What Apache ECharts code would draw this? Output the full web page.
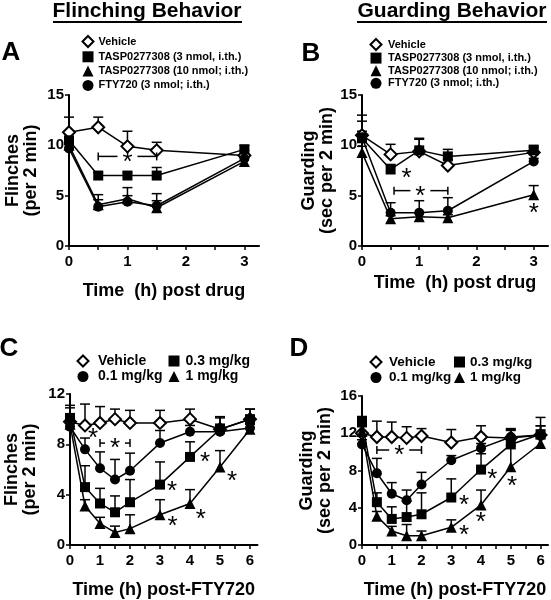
<!DOCTYPE html>
<html><head><meta charset="utf-8">
<script src="https://cdn.jsdelivr.net/npm/echarts@6/dist/echarts.min.js"></script>
<style>html,body{margin:0;padding:0;background:#fff}#c{width:551px;height:600px}</style>
</head><body><div id="c"></div>
<script>
const FONT = '"Liberation Sans", Arial, Helvetica, sans-serif';

// ---------- Panels A & B (intrathecal drugs) ----------
const timesAB = [0, 0.5, 1, 1.5, 3];
const xLabelsAB = [0, 1, 2, 3];
const xTicksAB = [0, 0.5, 1, 1.5, 2, 2.5, 3];
const namesAB = ['Vehicle', 'TASP0277308 (3 nmol, i.th.)', 'TASP0277308 (10 nmol; i.th.)', 'FTY720 (3 nmol; i.th.)'];

const A_vehicle = [11.3, 11.8, 9.9, 9.5, 9.0];
const A_vehicleErr = [1.5, 1.0, 1.5, 0.8, 0.5];
const A_tasp3 = [10.5, 7.0, 7.0, 7.0, 9.6];
const A_tasp3Err = [0.8, 0.3, 0.3, 0.8, 0.4];
const A_tasp10 = [10.0, 4.1, 4.7, 3.8, 8.4];
const A_tasp10Err = [0.6, 0.5, 1.1, 1.4, 0.4];
const A_fty = [9.7, 3.9, 4.4, 4.0, 8.7];
const A_ftyErr = [0.5, 1.2, 0.6, 0.5, 0.3];
const A_brackets = [[0.5, 1.5, 8.9, 1.0]];
const A_stars = [];

const B_vehicle = [11.0, 9.1, 9.4, 8.0, 9.3];
const B_vehicleErr = [2.0, 1.0, 1.2, 0.6, 0.5];
const B_tasp3 = [10.7, 7.6, 9.5, 8.9, 9.5];
const B_tasp3Err = [1.7, 0.5, 1.2, 0.7, 0.5];
const B_tasp10 = [9.3, 2.7, 2.9, 2.8, 5.1];
const B_tasp10Err = [0.6, 0.3, 0.4, 0.3, 0.9];
const B_fty = [10.8, 3.3, 3.3, 3.5, 8.4];
const B_ftyErr = [0.6, 1.0, 1.2, 1.3, 0.3];
const B_brackets = [[0.56, 1.5, 5.5, 1.02]];
const B_stars = [[0.78, 7.3], [3.0, 3.8]];

// ---------- Panels C & D (systemic FTY720) ----------
const timesCD = [0, 0.5, 1, 1.5, 2, 3, 4, 5, 6];
const xLabelsCD = [0, 1, 2, 3, 4, 5, 6];
const xTicksCD = [0, 0.5, 1, 1.5, 2, 2.5, 3, 3.5, 4, 4.5, 5, 5.5, 6];
const namesCD = ['Vehicle', '0.1 mg/kg', '0.3 mg/kg', '1 mg/kg'];

const C_vehicle = [9.8, 9.5, 9.7, 10.0, 9.7, 9.7, 10.0, 9.2, 10.0];
const C_vehicleErr = [1.3, 1.7, 1.3, 0.8, 1.0, 1.0, 0.8, 1.0, 0.8];
const C_dose01 = [9.4, 7.6, 6.1, 5.2, 5.9, 8.1, 9.0, 9.0, 9.3];
const C_dose01Err = [0.6, 0.9, 1.3, 1.6, 1.4, 1.0, 0.5, 0.6, 0.4];
const C_dose03 = [10.1, 4.6, 3.3, 2.6, 3.4, 4.8, 7.0, 9.2, 10.0];
const C_dose03Err = [0.8, 1.7, 1.2, 1.3, 1.8, 1.8, 1.2, 0.9, 0.8];
const C_dose1 = [9.6, 3.1, 1.7, 1.0, 1.3, 2.4, 3.3, 6.2, 9.2];
const C_dose1Err = [0.5, 0.5, 0.5, 0.5, 1.1, 1.2, 1.1, 1.3, 0.4];
const C_brackets = [[1.0, 2.0, 8.1, 1.5]];
const C_stars = [[0.77, 8.9], [3.4, 4.7], [4.5, 7.0], [3.42, 1.9], [4.36, 2.45], [5.4, 5.5]];

const D_vehicle = [12.0, 11.6, 11.6, 11.5, 11.7, 11.0, 11.6, 11.5, 11.8];
const D_vehicleErr = [0.8, 1.7, 1.6, 1.2, 0.8, 1.4, 1.2, 0.8, 1.0];
const D_dose01 = [10.8, 7.7, 5.5, 4.8, 6.5, 9.1, 10.4, 11.6, 11.8];
const D_dose01Err = [0.5, 1.6, 1.2, 1.1, 1.3, 0.5, 0.5, 0.8, 1.0];
const D_dose03 = [13.3, 4.6, 2.8, 3.0, 3.3, 5.1, 8.1, 10.8, 11.9];
const D_dose03Err = [0.5, 1.0, 1.3, 1.7, 2.3, 2.0, 1.7, 1.7, 1.8];
const D_dose1 = [12.2, 3.1, 1.5, 1.0, 1.0, 1.9, 4.3, 8.4, 10.9];
const D_dose1Err = [0.5, 0.5, 0.5, 1.2, 0.5, 0.8, 1.6, 2.3, 0.5];
const D_brackets = [[0.5, 2.0, 10.2, 1.25]];
const D_stars = [[3.43, 4.9], [4.38, 7.6], [3.43, 1.6], [3.99, 3.0], [5.04, 6.9]];

// ---------- styles ----------
const symDiamond = {symbol: 'diamond', symbolSize: 12, itemStyle: {color: '#fff', borderColor: '#000', borderWidth: 2}};
const symRect = {symbol: 'rect', symbolSize: 10, itemStyle: {color: '#000', borderColor: '#000', borderWidth: 0}};
const symTri = {symbol: 'triangle', symbolSize: 11, itemStyle: {color: '#000', borderColor: '#000', borderWidth: 0}};
const symCirc = {symbol: 'circle', symbolSize: 10, itemStyle: {color: '#000', borderColor: '#000', borderWidth: 0}};

const STAR_FONT = '26px ' + FONT;
const STAR_DY = 6;

function errRender(params, api) {
  const x = api.value(0), y = api.value(1), e = api.value(2);
  const p0 = api.coord([x, y]);
  const p1 = api.coord([x, y + e]);
  const st = {stroke: '#000', lineWidth: 1.5};
  return {type: 'group', children: [
    {type: 'line', shape: {x1: p0[0], y1: p0[1], x2: p1[0], y2: p1[1]}, style: st},
    {type: 'line', shape: {x1: p1[0] - 5, y1: p1[1], x2: p1[0] + 5, y2: p1[1]}, style: st}
  ]};
}
function bracketRender(params, api) {
  const y = api.value(2);
  const a = api.coord([api.value(0), y]);
  const b = api.coord([api.value(1), y]);
  const s = api.coord([api.value(3), y]);
  const g = 10, st = {stroke: '#000', lineWidth: 1.5};
  return {type: 'group', children: [
    {type: 'line', shape: {x1: a[0], y1: a[1], x2: s[0] - g, y2: s[1]}, style: st},
    {type: 'line', shape: {x1: s[0] + g, y1: s[1], x2: b[0], y2: b[1]}, style: st},
    {type: 'line', shape: {x1: a[0], y1: a[1] - 4, x2: a[0], y2: a[1] + 4}, style: st},
    {type: 'line', shape: {x1: b[0], y1: b[1] - 4, x2: b[0], y2: b[1] + 4}, style: st},
    {type: 'text', x: s[0], y: s[1] + STAR_DY, style: {text: '*', font: STAR_FONT, fill: '#000', align: 'center', verticalAlign: 'middle'}}
  ]};
}
function starRender(params, api) {
  const p = api.coord([api.value(0), api.value(1)]);
  return {type: 'text', x: p[0], y: p[1] + STAR_DY, style: {text: '*', font: STAR_FONT, fill: '#000', align: 'center', verticalAlign: 'middle'}};
}

const series = [];
function addPanel(idx, times, names, vals, errs, syms, brackets, stars) {
  for (let s = 0; s < vals.length; s++) {
    series.push({
      type: 'custom', name: names[s] + ' err', xAxisIndex: idx, yAxisIndex: idx, z: 2,
      renderItem: errRender, encode: {x: 0, y: 1},
      data: times.map((t, k) => [t, vals[s][k], errs[s][k]]), silent: true
    });
  }
  for (let s = 0; s < vals.length; s++) {
    series.push(Object.assign({
      type: 'line', name: names[s], xAxisIndex: idx, yAxisIndex: idx, z: 3 + s,
      lineStyle: {color: '#000', width: 1.5}, showAllSymbol: true,
      data: times.map((t, k) => [t, vals[s][k]])
    }, JSON.parse(JSON.stringify(syms[s]))));
  }
  series.push({type: 'custom', xAxisIndex: idx, yAxisIndex: idx, z: 10, renderItem: bracketRender,
    encode: {x: 0, y: 2}, data: brackets, silent: true});
  if (stars.length) series.push({type: 'custom', xAxisIndex: idx, yAxisIndex: idx, z: 10, renderItem: starRender,
    encode: {x: 0, y: 1}, data: stars, silent: true});
}
const symsAB = [symDiamond, symRect, symTri, symCirc];
const symsCD = [symDiamond, symCirc, symRect, symTri];
addPanel(0, timesAB, namesAB, [A_vehicle, A_tasp3, A_tasp10, A_fty], [A_vehicleErr, A_tasp3Err, A_tasp10Err, A_ftyErr], symsAB, A_brackets, A_stars);
addPanel(1, timesAB, namesAB, [B_vehicle, B_tasp3, B_tasp10, B_fty], [B_vehicleErr, B_tasp3Err, B_tasp10Err, B_ftyErr], symsAB, B_brackets, B_stars);
addPanel(2, timesCD, namesCD, [C_vehicle, C_dose01, C_dose03, C_dose1], [C_vehicleErr, C_dose01Err, C_dose03Err, C_dose1Err], symsCD, C_brackets, C_stars);
addPanel(3, timesCD, namesCD, [D_vehicle, D_dose01, D_dose03, D_dose1], [D_vehicleErr, D_dose01Err, D_dose03Err, D_dose1Err], symsCD, D_brackets, D_stars);

const grids = [
  {left: 69, top: 95, width: 190, height: 151},
  {left: 362, top: 95, width: 186, height: 151},
  {left: 70, top: 394, width: 187.5, height: 151},
  {left: 362, top: 396, width: 186, height: 149}
].map(g => Object.assign(g, {containLabel: false, outerBoundsMode: 'none'}));

const axLine = {show: true, lineStyle: {color: '#000', width: 2}};
const tickStyle = {color: '#000', width: 1.5};
const lblStyle = {color: '#000', fontSize: 15, fontWeight: 'bold', fontFamily: FONT};
const nameStyle = {color: '#000', fontSize: 18, fontWeight: 'bold', fontFamily: FONT, lineHeight: 18};

function xAx(i, max, ticks, labels, name, gap) {
  return {type: 'value', gridIndex: i, min: 0, max: max, name: name, nameLocation: 'middle', nameGap: gap,
    nameTextStyle: nameStyle, axisLine: axLine,
    axisTick: {show: true, length: 4, lineStyle: tickStyle, customValues: ticks},
    axisLabel: Object.assign({margin: 8, customValues: labels}, lblStyle), splitLine: {show: false}};
}
function yAx(i, max, interval, name, gap) {
  return {type: 'value', gridIndex: i, min: 0, max: max, interval: interval, name: name, nameLocation: 'middle',
    nameGap: gap, nameRotate: 90, nameTextStyle: nameStyle, axisLine: axLine,
    axisTick: {show: true, length: 4, lineStyle: tickStyle},
    axisLabel: Object.assign({margin: 5}, lblStyle), splitLine: {show: false}};
}

const xAxes = [
  xAx(0, 3.25, xTicksAB, xLabelsAB, 'Time  (h) post drug', 36),
  xAx(1, 3.25, xTicksAB, xLabelsAB, 'Time  (h) post drug', 28),
  xAx(2, 6.25, xTicksCD, xLabelsCD, 'Time (h) post-FTY720', 36),
  xAx(3, 6.25, xTicksCD, xLabelsCD, 'Time (h) post-FTY720', 36)
];
const yAxes = [
  yAx(0, 15, 5, 'Flinches\n(per 2 min)', 29),
  yAx(1, 15, 5, 'Guarding\n(sec per 2 min)', 26),
  yAx(2, 12, 4, 'Flinches\n(per 2 min)', 31),
  yAx(3, 16, 4, 'Guarding\n(sec per 2 min)', 28)
];

const iconOf = {'Vehicle': 'diamond', 'TASP0277308 (3 nmol, i.th.)': 'rect', 'TASP0277308 (10 nmol; i.th.)': 'triangle',
  'FTY720 (3 nmol; i.th.)': 'circle', '0.1 mg/kg': 'circle', '0.3 mg/kg': 'rect', '1 mg/kg': 'triangle'};
function leg(names, left, top, gap, fs, padL) {
  return {orient: 'vertical', left: left, top: top, itemWidth: 11, itemHeight: 11, itemGap: gap, padding: 0,
    selectedMode: false,
    textStyle: {color: '#000', fontSize: fs, fontWeight: 'bold', fontFamily: FONT, padding: [0, 0, 0, padL]},
    data: names.map(n => ({name: n, icon: iconOf[n]}))};
}
const legends = [
  leg(namesAB, 81.5, 35, 3.3, 11, 0),
  leg(namesAB, 369.5, 38, 1.6, 11, 1.5),
  leg(['Vehicle', '0.1 mg/kg'], 76.5, 354, 1.5, 14, 4.5),
  leg(['0.3 mg/kg', '1 mg/kg'], 168.5, 354, 1.5, 14, 1),
  leg(['Vehicle', '0.1 mg/kg'], 369.5, 355, 1.5, 13.5, 2.5),
  leg(['0.3 mg/kg', '1 mg/kg'], 454, 355, 1.5, 13.5, 0)
];

const txt = (x, y, t, fs) => ({type: 'text', x: x, y: y, style: {text: t, font: 'bold ' + fs + 'px ' + FONT, fill: '#000', align: 'center', verticalAlign: 'middle'}});
const graphics = [
  txt(147, 11, 'Flinching Behavior', 21),
  {type: 'line', shape: {x1: 53, y1: 22, x2: 242, y2: 22}, style: {stroke: '#000', lineWidth: 2}},
  txt(452, 11, 'Guarding Behavior', 21),
  {type: 'line', shape: {x1: 357, y1: 22, x2: 547, y2: 22}, style: {stroke: '#000', lineWidth: 2}},
  txt(11, 53, 'A', 26),
  txt(311, 54, 'B', 26),
  txt(9, 349, 'C', 26),
  txt(299, 349, 'D', 26)
];

const chart = echarts.init(document.getElementById('c'), null, {renderer: 'canvas'});
chart.setOption({
  animation: false,
  backgroundColor: '#fff',
  grid: grids, xAxis: xAxes, yAxis: yAxes, legend: legends, series: series, graphic: graphics
});
</script></body></html>
